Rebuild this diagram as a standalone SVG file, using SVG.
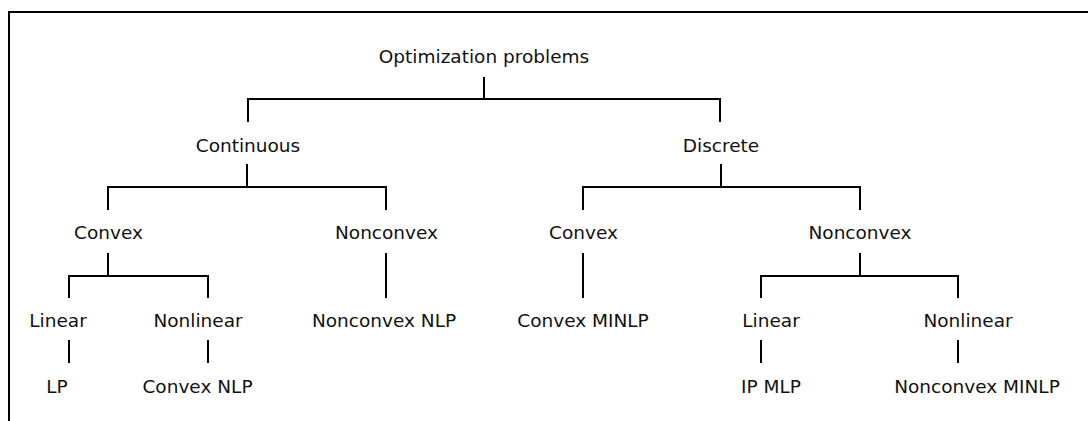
<svg xmlns="http://www.w3.org/2000/svg" width="1088" height="421" viewBox="0 0 1088 421">
<style>
text{font-family:"DejaVu Sans","Noto Sans",sans-serif;font-size:18.5px;fill:#111;text-anchor:middle}
.c path,.frame{stroke:#000;stroke-width:2;fill:none}
</style>
<rect width="1088" height="421" fill="#fff"/>
<path class="frame" d="M9,421V12H1088" stroke="#000" stroke-width="2" fill="none"/>
<g id="n-root"><text x="484" y="63">Optimization problems</text></g>
<g id="n-continuous"><text x="248" y="152">Continuous</text></g>
<g id="n-discrete"><text x="721" y="152">Discrete</text></g>
<g id="n-convex-c"><text x="108.5" y="239">Convex</text></g>
<g id="n-nonconvex-c"><text x="386.5" y="239">Nonconvex</text></g>
<g id="n-convex-d"><text x="583.5" y="239">Convex</text></g>
<g id="n-nonconvex-d"><text x="860" y="239">Nonconvex</text></g>
<g id="n-linear-c"><text x="58" y="327">Linear</text></g>
<g id="n-nonlinear-c"><text x="198" y="327">Nonlinear</text></g>
<g id="n-nonconvex-nlp"><text x="384" y="327">Nonconvex NLP</text></g>
<g id="n-convex-minlp"><text x="583" y="327">Convex MINLP</text></g>
<g id="n-linear-d"><text x="771" y="327">Linear</text></g>
<g id="n-nonlinear-d"><text x="968" y="327">Nonlinear</text></g>
<g id="n-lp"><text x="57" y="393">LP</text></g>
<g id="n-convex-nlp"><text x="197.5" y="393">Convex NLP</text></g>
<g id="n-ip-mlp"><text x="771" y="393">IP MLP</text></g>
<g id="n-nonconvex-minlp"><text x="977" y="393">Nonconvex MINLP</text></g>
<g id="connectors" class="c">
<path d="M484,77V99M248,122V99H720V122"/>
<path d="M247,164V187M108,210V187H386V210"/>
<path d="M721,164V187M583,210V187H860V210"/>
<path d="M108,253V276M69,298V276H208V298"/>
<path d="M386,253V298"/>
<path d="M583,253V298"/>
<path d="M860,253V276M761,298V276H958V298"/>
<path d="M69,340V363M208,340V363M761,340V363M958,340V363"/>
</g>
</svg>
